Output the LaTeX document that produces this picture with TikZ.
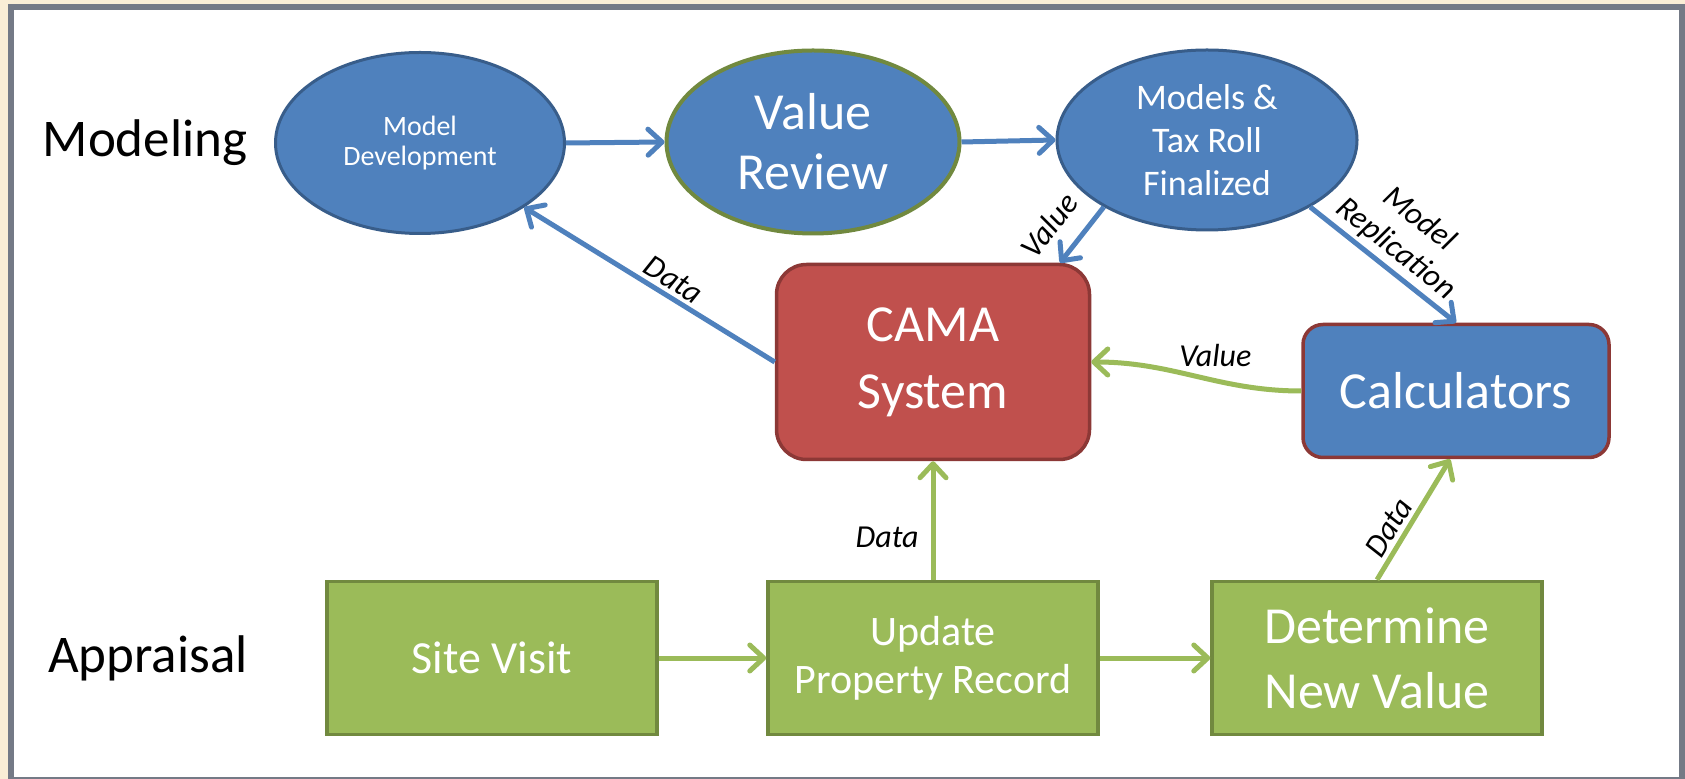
\documentclass[tikz,border=0pt]{standalone}
\usepackage{fontspec}
\setmainfont{Carlito}
\usetikzlibrary{shapes.geometric,arrows.meta}

\definecolor{ofblue}{HTML}{4F81BD}
\definecolor{ofblueline}{HTML}{385D8A}
\definecolor{ofred}{HTML}{C0504D}
\definecolor{ofredline}{HTML}{8C3836}
\definecolor{ofgreen}{HTML}{9BBB59}
\definecolor{ofgreenline}{HTML}{71893F}
\definecolor{pagebg}{HTML}{FAEED6}
\definecolor{framegray}{HTML}{747A86}

\begin{document}
\begin{tikzpicture}
[x=0.5pt,y=-0.5pt,inner sep=0pt,
oval/.style={ellipse, draw=ofblueline, fill=ofblue, line width=1.5pt, text=white, align=center},
box/.style={rectangle, draw=ofgreenline, fill=ofgreen, line width=1.75pt, text=white, align=center,
  minimum width=165pt, minimum height=76.5pt},
sys/.style={rectangle, line width=1.75pt, text=white, align=center},
lane/.style={font=\fontsize{26.5}{32}\selectfont},
lbl/.style={font=\itshape\fontsize{16}{19}\selectfont, text=black, inner sep=2pt},
blueflow/.style={draw=ofblue, line width=2.5pt, -{Straight Barb[length=7pt,width=13pt,round]}},
greenflow/.style={draw=ofgreen, line width=2.5pt, -{Straight Barb[length=7pt,width=13pt,round]}}]
\useasboundingbox (0,0) rectangle (1685,779);
\fill[pagebg] (0,0) rectangle (1685,779);
\draw[framegray, line width=3pt, fill=white] (11,7) rectangle (1682,780);

% lanes
\node[lane] (modeling) at (145,143) {Modeling};
\node[lane] (appraisal) at (148,658) {Appraisal};

% modeling row
\node[oval, minimum width=144.5pt, minimum height=90.5pt, font=\fontsize{14}{15}\selectfont] (mdev) at (420,143) {Model\\Development};
\node[oval, draw=ofgreenline, line width=2pt, minimum width=146.5pt, minimum height=91.5pt, font=\fontsize{26}{30}\selectfont] (vrev) at (813,142) {Value\\Review};
\node[oval, minimum width=150pt, minimum height=90pt, font=\fontsize{18}{21.5}\selectfont] (final) at (1207,140) {Models \&\\Tax Roll\\Finalized};

% systems
\node[sys, fill=ofred, draw=ofredline, rounded corners=15pt, minimum width=156.5pt, minimum height=97.5pt, font=\fontsize{26}{33.5}\selectfont] (cama) at (933,362) {CAMA\\System};
\node[sys, fill=ofblue, draw=ofredline, rounded corners=10pt, minimum width=153pt, minimum height=66.5pt, font=\fontsize{26}{30}\selectfont] (calc) at (1456,391) {Calculators};

% appraisal row
\node[box, font=\fontsize{23}{27}\selectfont] (site) at (492,658) {Site Visit};
\node[box, font=\fontsize{21}{24}\selectfont] (update) at (933,658) {Update\\Property Record};
\node[box, font=\fontsize{26}{32.5}\selectfont] (determine) at (1377,658) {Determine\\New Value};

% modeling flow
\draw[blueflow] (mdev.east) -- (vrev.west);
\draw[blueflow] (vrev.east) -- (final.west);
\draw[blueflow] (final.213) -- (cama.38) node[lbl, pos=0.68, sloped, above=7pt] {Value};
\draw[blueflow] (final.-33) -- (calc.north) node[lbl, midway, sloped, above, align=center] {Model\\Replication};
\draw[blueflow] (cama.west) -- (mdev) node[lbl, pos=0.44, sloped, above] {Data};
\draw[greenflow] (calc.west) to[out=180,in=0] node[lbl, pos=0.4, above=4pt] {Value} (cama.east);

% appraisal flow
\draw[greenflow] (site.east) -- (update.west);
\draw[greenflow] (update.east) -- (determine.west);
\draw[greenflow] (update.north) -- (cama.south) node[lbl, pos=0.36, left=4pt] {Data};
\draw[greenflow] (determine.north) -- (calc.265) node[lbl, pos=0.36, sloped, above] {Data};
\end{tikzpicture}
\end{document}
